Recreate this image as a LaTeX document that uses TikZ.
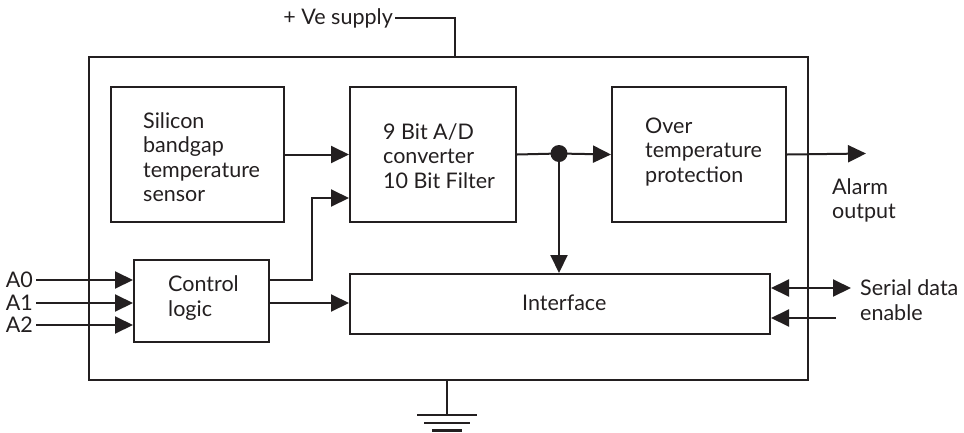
\documentclass[tikz,border=0pt]{standalone}
\usepackage{fontspec}
\setmainfont{Lato}
\usetikzlibrary{arrows.meta}
\definecolor{ink}{HTML}{231F20}
\begin{document}
\begin{tikzpicture}[x=1pt,y=-1pt,
  ln/.style={draw=ink,line width=2pt},
  blk/.style={draw=ink,line width=2pt,rectangle,anchor=north west,inner sep=0pt},
  txt/.style={text=ink,inner sep=0pt,align=left,font=\fontsize{21.5}{24.5}\selectfont},
  arr/.style={ln,-{Triangle[length=18pt,width=17pt]}},
  barr/.style={ln,{Triangle[length=18pt,width=17pt]}-{Triangle[length=18pt,width=17pt]}}]
\useasboundingbox (0,0) rectangle (964,432);
% outer
\node[blk,minimum width=719pt,minimum height=323pt] (outer) at (88,56) {};
% blocks
\node[blk,minimum width=173pt,minimum height=135pt] (sil) at (110,86) {};
\node[blk,minimum width=166pt,minimum height=135pt] (adc) at (349,86) {};
\node[blk,minimum width=174pt,minimum height=135pt] (ovt) at (611,86) {};
\node[blk,minimum width=420pt,minimum height=60pt] (intf) at (349,273) {};
\node[blk,minimum width=135pt,minimum height=82pt] (ctl) at (133,259) {};
% texts
\node[txt,anchor=west] (silt) at (143,157) {Silicon\\bandgap\\temperature\\sensor};
\node[txt,anchor=west] (adct) at (383,156) {9 Bit A/D\\converter\\10 Bit Filter};
\node[txt,anchor=west] (ovtt) at (645,152) {Over\\temperature\\protection};
\node[txt,anchor=west] (intt) at (522,303) {Interface};
\node[txt,anchor=west] (ctlt) at (168,298) {Control\\logic};
\node[txt,anchor=east] (sup) at (393,18) {+ Ve supply};
\node[txt,anchor=east] (a0) at (33,280) {A0};
\node[txt,anchor=east] (a1) at (33,303) {A1};
\node[txt,anchor=east] (a2) at (33,325) {A2};
\node[txt,anchor=north west] (alarm) at (832,178) {Alarm\\output};
\node[txt,anchor=west] (ser) at (860,300) {Serial data\\enable};
% coordinates
\coordinate (supc) at (455,56);
\coordinate (dot) at (559,153.5);
\coordinate (alo) at (866,153.5);
\coordinate (sero) at (851,288);
\coordinate (eni) at (836,318);
\coordinate (g0) at (447,379);
\coordinate (g1) at (447,415);
% connectors
\draw[ln] (sup.east) ++(2,0) -| (supc);
\draw[arr] (sil.east) -- (adc.west |- sil.east);
\draw[arr] (ctl.east |- 0,280) -- (312,280) |- (adc.west |- 0,198);
\draw[arr] (ctl.east |- 0,303) -- (intf.west |- 0,303);
\draw[ln] (adc.east) -- (dot);
\draw[arr] (dot) -- (ovt.west);
\draw[arr] (dot) -- (dot |- intf.north);
\fill[ink] (dot) circle (8.5pt);
\draw[arr] (ovt.east) -- (alo);
\draw[arr] (a0.east) ++(3,0) -- (ctl.west |- a0.east);
\draw[arr] (a1.east) ++(3,0) -- (ctl.west |- a1.east);
\draw[arr] (a2.east) ++(3,0) -- (ctl.west |- a2.east);
\draw[barr] (intf.east |- sero) -- (sero);
\draw[arr] (eni) -- (intf.east |- eni);
% ground
\draw[ln] (g0) -- (g1);
\draw[ln] (417,415) -- (477,415);
\draw[ln] (424,423) -- (470,423);
\draw[ln,line width=2.6pt] (432,430.5) -- (462,430.5);
\end{tikzpicture}
\end{document}
